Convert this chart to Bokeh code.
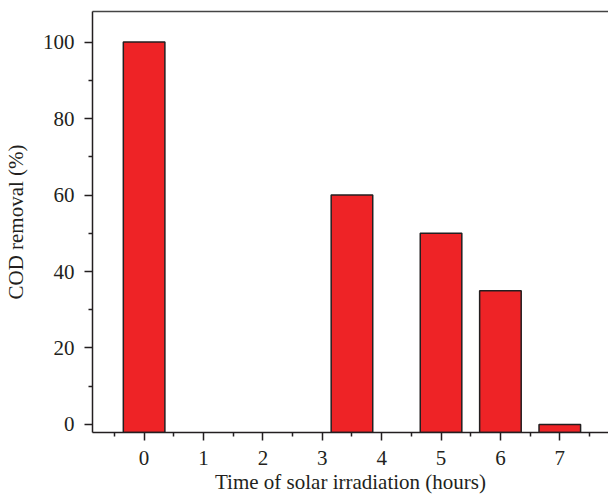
from bokeh.plotting import figure
from bokeh.models import FixedTicker, LinearAxis, Range1d
from bokeh.embed import file_html
from bokeh.resources import INLINE

# Data
hours = [0, 3.5, 5, 6, 7]
cod_removal = [100, 60, 50, 35, 0]
x_ticks = [0, 1, 2, 3, 4, 5, 6, 7]
x_minor = [-0.5, 0.5, 1.5, 2.5, 3.5, 4.5, 5.5, 6.5, 7.5]
y_ticks = [0, 20, 40, 60, 80, 100]
y_minor = [10, 30, 50, 70, 90]

X0, X1 = -0.869, 7.82
Y0, Y1 = -2.1, 108.0
FONT = "Liberation Serif"
FS = "21px"

p = figure(width=608, height=497, output_backend="svg", toolbar_location=None,
           x_range=Range1d(X0, X1), y_range=Range1d(Y0, Y1),
           min_border_top=11, min_border_right=0, min_border_left=91, min_border_bottom=65)
p.outline_line_color = None
p.grid.visible = False
p.background_fill_color = "white"

p.vbar(x=hours, top=cod_removal, bottom=Y0, width=0.7,
       fill_color="#EE2326", line_color="#231F20", line_width=1.5)

for ax in (p.xaxis[0], p.yaxis[0]):
    ax.axis_line_width = 1.5
    ax.axis_line_color = "#231F20"
    ax.major_tick_line_width = 1.5
    ax.minor_tick_line_width = 1.5
    ax.major_tick_line_color = "#231F20"
    ax.minor_tick_line_color = "#231F20"
    ax.major_tick_in = 0
    ax.minor_tick_in = 0
    ax.major_label_text_font = FONT
    ax.major_label_text_font_size = FS
    ax.major_label_text_color = "#231F20"
    ax.axis_label_text_font = FONT
    ax.axis_label_text_font_style = "normal"
    ax.axis_label_text_font_size = FS
    ax.axis_label_text_color = "#231F20"

p.xaxis.ticker = FixedTicker(ticks=x_ticks, minor_ticks=x_minor)
p.xaxis.major_tick_out = 8
p.xaxis.minor_tick_out = 4
p.xaxis.major_label_standoff = 10
p.xaxis.axis_label = "Time of solar irradiation (hours)"
p.xaxis.axis_label_standoff = 2

p.yaxis.ticker = FixedTicker(ticks=y_ticks, minor_ticks=y_minor)
p.yaxis.major_tick_out = 8
p.yaxis.minor_tick_out = 4
p.yaxis.major_label_standoff = 10
p.yaxis.axis_label = "COD removal (%)"
p.yaxis.axis_label_standoff = 12

top = LinearAxis(axis_line_width=1.5, axis_line_color="#444444",
                 major_tick_line_color=None, minor_tick_line_color=None,
                 major_label_text_font_size="0px", major_label_text_color=None)
p.add_layout(top, "above")

open("out.html", "w").write(file_html(p, INLINE))
